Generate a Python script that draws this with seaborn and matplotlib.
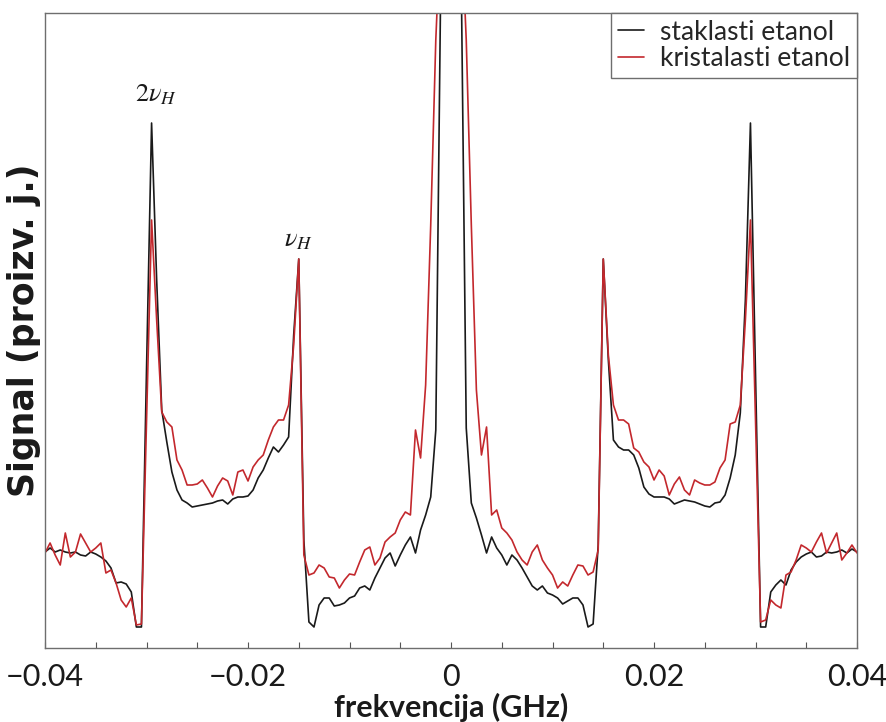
import numpy as np
import pandas as pd
import matplotlib
matplotlib.use("Agg")
import matplotlib.pyplot as plt
import seaborn as sns
from matplotlib.ticker import FixedLocator, FixedFormatter

# ---------------- data ----------------
freq_ghz = [
    -0.0400, -0.0395, -0.0390, -0.0385, -0.0380, -0.0375, -0.0370, -0.0365, -0.0360, -0.0355,
    -0.0350, -0.0345, -0.0340, -0.0335, -0.0330, -0.0325, -0.0320, -0.0315, -0.0310, -0.0305,
    -0.0300, -0.0295, -0.0290, -0.0285, -0.0280, -0.0275, -0.0270, -0.0265, -0.0260, -0.0255,
    -0.0250, -0.0245, -0.0240, -0.0235, -0.0230, -0.0225, -0.0220, -0.0215, -0.0210, -0.0205,
    -0.0200, -0.0195, -0.0190, -0.0185, -0.0180, -0.0175, -0.0170, -0.0165, -0.0160, -0.0155,
    -0.0150, -0.0145, -0.0140, -0.0135, -0.0130, -0.0125, -0.0120, -0.0115, -0.0110, -0.0105,
    -0.0100, -0.0095, -0.0090, -0.0085, -0.0080, -0.0075, -0.0070, -0.0065, -0.0060, -0.0055,
    -0.0050, -0.0045, -0.0040, -0.0035, -0.0030, -0.0025, -0.0020, -0.0015, -0.0010, -0.0005,
    0.0000,
    0.0005, 0.0010, 0.0015, 0.0020, 0.0025, 0.0030, 0.0035, 0.0040, 0.0045, 0.0050,
    0.0055, 0.0060, 0.0065, 0.0070, 0.0075, 0.0080, 0.0085, 0.0090, 0.0095, 0.0100,
    0.0105, 0.0110, 0.0115, 0.0120, 0.0125, 0.0130, 0.0135, 0.0140, 0.0145, 0.0150,
    0.0155, 0.0160, 0.0165, 0.0170, 0.0175, 0.0180, 0.0185, 0.0190, 0.0195, 0.0200,
    0.0205, 0.0210, 0.0215, 0.0220, 0.0225, 0.0230, 0.0235, 0.0240, 0.0245, 0.0250,
    0.0255, 0.0260, 0.0265, 0.0270, 0.0275, 0.0280, 0.0285, 0.0290, 0.0295, 0.0300,
    0.0305, 0.0310, 0.0315, 0.0320, 0.0325, 0.0330, 0.0335, 0.0340, 0.0345, 0.0350,
    0.0355, 0.0360, 0.0365, 0.0370, 0.0375, 0.0380, 0.0385, 0.0390, 0.0395, 0.0400,
]

# staklasti etanol (glassy ethanol), arbitrary units
signal_staklasti = [
    96, 100, 96, 98, 96, 95, 96, 93, 92, 96,
    94, 91, 87, 80, 65, 66, 64, 56, 21, 21,
    278, 525, 368, 238, 206, 176, 158, 148, 145, 141,
    142, 143, 144, 145, 147, 148, 144, 149, 151, 151,
    152, 158, 170, 178, 190, 201, 196, 203, 211, 313,
    389, 108, 26, 21, 43, 50, 50, 42, 43, 45,
    50, 52, 60, 62, 58, 70, 80, 90, 95, 82,
    93, 103, 111, 95, 118, 133, 151, 218, 678, 1148,
    1548,
    1148, 678, 220, 145, 130, 113, 95, 111, 100, 93,
    83, 93, 88, 80, 71, 62, 58, 62, 55, 53,
    50, 44, 47, 50, 50, 43, 21, 24, 103, 389,
    288, 208, 201, 198, 198, 193, 180, 161, 154, 151,
    151, 151, 149, 144, 146, 148, 147, 146, 144, 142,
    141, 145, 146, 153, 170, 193, 235, 348, 525, 273,
    21, 21, 56, 63, 68, 63, 78, 86, 91, 94,
    96, 91, 92, 96, 95, 96, 98, 95, 99, 96,
]

# kristalasti etanol (crystalline ethanol), arbitrary units
signal_kristalasti = [
    95, 105, 93, 83, 115, 91, 96, 114, 105, 96,
    100, 105, 75, 78, 65, 48, 41, 50, 23, 24,
    228, 428, 328, 236, 226, 221, 188, 178, 163, 163,
    164, 168, 160, 151, 162, 170, 167, 153, 176, 178,
    167, 181, 188, 193, 208, 221, 228, 228, 243, 303,
    389, 93, 73, 75, 83, 80, 71, 70, 60, 68,
    74, 73, 86, 98, 101, 83, 90, 106, 111, 115,
    128, 136, 133, 218, 190, 263, 423, 608, 728, 1348,
    1848,
    1348, 728, 608, 423, 258, 193, 221, 133, 138, 120,
    115, 108, 96, 88, 83, 96, 103, 88, 80, 73,
    60, 66, 62, 73, 83, 82, 73, 76, 98, 389,
    293, 243, 228, 228, 224, 200, 196, 186, 181, 168,
    178, 172, 153, 164, 171, 158, 153, 168, 165, 163,
    163, 166, 180, 188, 224, 226, 243, 328, 428, 228,
    26, 28, 48, 43, 40, 73, 76, 88, 103, 100,
    96, 106, 115, 95, 105, 115, 88, 95, 103, 95,
]

series_names = ["staklasti etanol", "kristalasti etanol"]
series_colors = ["#1a1a1a", "#c3282d"]

xtick_values = [-0.04, -0.02, 0.0, 0.02, 0.04]
xtick_labels = ["\u22120.04", "\u22120.02", "0", "0.02", "0.04"]
xminor_values = [-0.035, -0.03, -0.025, -0.015, -0.01, -0.005,
                 0.005, 0.01, 0.015, 0.025, 0.03, 0.035]

peak_labels = [r"$2\nu_H$", r"$\nu_H$"]
peak_label_pos = [(-0.0291, 553), (-0.0150, 408)]

# ---------------- figure ----------------
sns.set_theme(style="white")
plt.rcParams["font.family"] = ["Lato", "DejaVu Sans"]
plt.rcParams["mathtext.fontset"] = "stix"

n = len(freq_ghz)
df = pd.DataFrame({
    "freq": freq_ghz + freq_ghz,
    "signal": signal_staklasti + signal_kristalasti,
    "uzorak": [series_names[0]] * n + [series_names[1]] * n,
})

fig = plt.figure(figsize=(8.86, 7.22), dpi=100)
ax = fig.add_axes([0.0508, 0.1025, 0.9165, 0.8795])

sns.lineplot(data=df, x="freq", y="signal", hue="uzorak",
             hue_order=series_names, palette=series_colors,
             estimator=None, sort=False, linewidth=1.2, ax=ax)

ax.set_xlim(-0.04, 0.04)
ax.set_ylim(0, 635)

ax.xaxis.set_major_locator(FixedLocator(xtick_values))
ax.xaxis.set_major_formatter(FixedFormatter(xtick_labels))
ax.xaxis.set_minor_locator(FixedLocator(xminor_values))
ax.tick_params(axis="x", which="both", direction="in", length=4, width=0.8,
               color="#555555", bottom=True, top=False, labelsize=22, pad=11,
               labelcolor="#1a1a1a")
ax.set_yticks([])

for side in ["left", "right", "top", "bottom"]:
    ax.spines[side].set_color("#6e6e6e")
    ax.spines[side].set_linewidth(1.0)

ax.set_xlabel("frekvencija (GHz)", fontsize=22, fontweight="bold",
              color="#1a1a1a", labelpad=1)
ax.set_ylabel("Signal (proizv. j.)", fontsize=25, fontweight="bold",
              family=["DejaVu Sans"], color="#1a1a1a", labelpad=3)

for txt, (px, py) in zip(peak_labels, peak_label_pos):
    ax.text(px, py, txt, fontsize=19, ha="center", va="center", color="#1a1a1a")

handles, labels = ax.get_legend_handles_labels()
leg = ax.legend(handles, labels, loc="upper right", bbox_to_anchor=(1.0, 1.0),
                borderaxespad=0.0, frameon=True, fancybox=False,
                edgecolor="#6e6e6e", framealpha=1.0, fontsize=19,
                handlelength=1.0, handletextpad=0.6, borderpad=0.25,
                labelspacing=0.05)
leg.get_frame().set_linewidth(1.0)
for line in leg.get_lines():
    line.set_linewidth(1.2)

fig.savefig("out.png", dpi=100)
